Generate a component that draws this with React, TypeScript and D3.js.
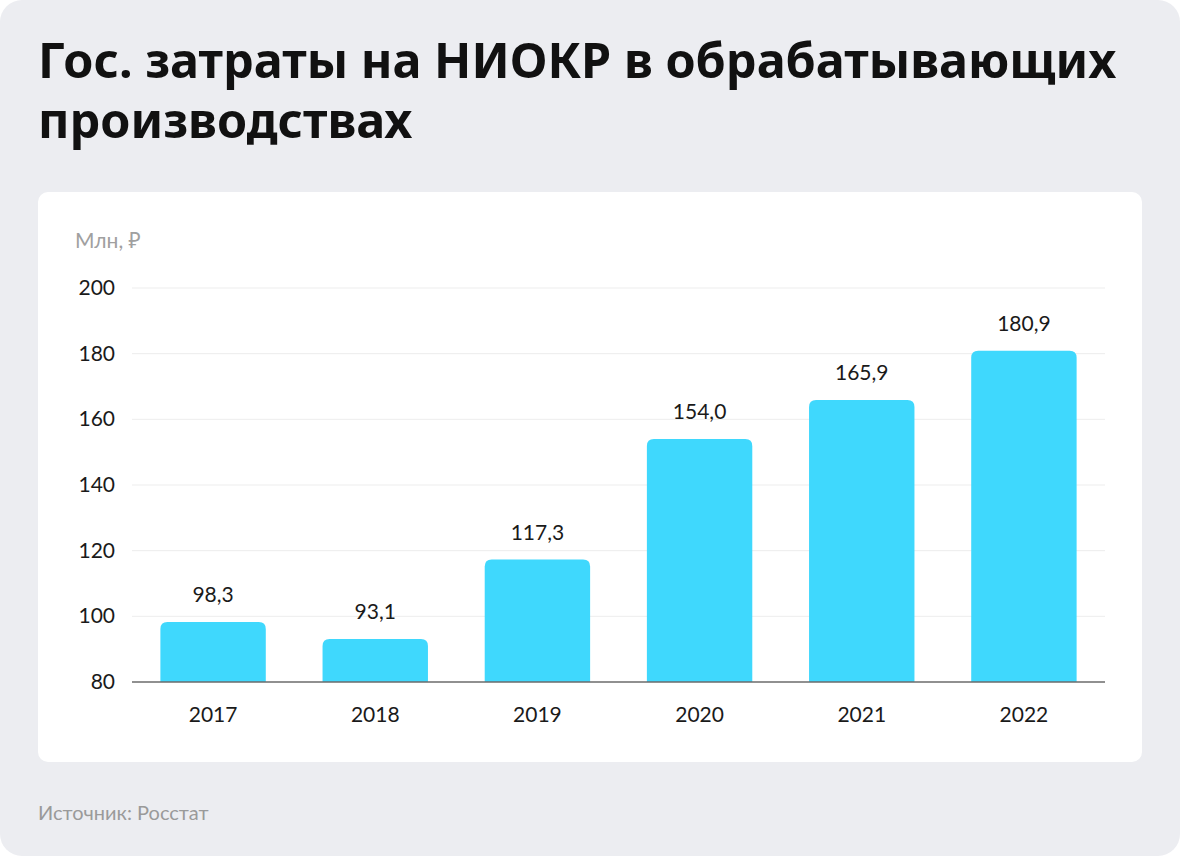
import { useEffect, useRef } from 'react';
import * as d3 from 'd3';

const years = ['2017', '2018', '2019', '2020', '2021', '2022'];
const values = [98.3, 93.1, 117.3, 154.0, 165.9, 180.9];
const yTicks = [80, 100, 120, 140, 160, 180, 200];
const titleLines = ['Гос. затраты на НИОКР в обрабатывающих', 'производствах'];
const unitLabel = 'Млн, ₽';
const sourceLabel = 'Источник: Росстат';

const W = 1180;
const H = 856;

const App = () => {
  const svgRef = useRef<SVGSVGElement>(null);

  useEffect(() => {
    document.body.style.margin = '0';
    const svg = d3.select(svgRef.current);
    svg.selectAll('*').remove();

    // page background
    svg.append('rect').attr('width', W).attr('height', H).attr('fill', '#ffffff');
    svg.append('rect').attr('width', W).attr('height', H).attr('rx', 22).attr('fill', '#ecedf1');

    const title = svg.append('text')
      .attr('font-family', '"Noto Sans", "Open Sans", sans-serif')
      .attr('font-weight', 700)
      .attr('font-size', 48.5)
      .attr('fill', '#111');
    titleLines.forEach((line, i) => {
      title.append('tspan').attr('x', 38).attr('y', 78 + i * 60).text(line);
    });

    // white card
    svg.append('rect')
      .attr('x', 38).attr('y', 192)
      .attr('width', 1104).attr('height', 570)
      .attr('rx', 10).attr('fill', '#ffffff');

    const left = 132;
    const right = 1105;
    const x = d3.scaleBand().domain(years).range([left, right]).paddingInner(0.35).paddingOuter(0.175);
    const y = d3.scaleLinear().domain([80, 200]).range([682, 288]);

    const font = 'Lato, "Noto Sans", sans-serif';

    svg.append('text')
      .attr('x', 75).attr('y', 248)
      .attr('font-family', font).attr('font-size', 21)
      .attr('fill', '#a0a0a0')
      .text(unitLabel);

    // grid
    svg.append('g')
      .selectAll('line')
      .data(yTicks.slice(1))
      .join('line')
      .attr('x1', left).attr('x2', right)
      .attr('y1', d => y(d)).attr('y2', d => y(d))
      .attr('stroke', '#ededed').attr('stroke-width', 1);

    svg.append('g')
      .selectAll('text')
      .data(yTicks)
      .join('text')
      .attr('x', 115).attr('y', d => y(d) + 7)
      .attr('text-anchor', 'end')
      .attr('font-family', font).attr('font-size', 21)
      .attr('fill', '#1a1a1a')
      .text(d => d);

    // bars with rounded top corners
    const r = 7;
    const bw = x.bandwidth();
    svg.append('g')
      .selectAll('path')
      .data(values)
      .join('path')
      .attr('fill', '#3fd8fd')
      .attr('d', (d, i) => {
        const x0 = x(years[i])!;
        const y0 = y(d);
        const yb = y(80);
        return `M${x0},${yb}V${y0 + r}Q${x0},${y0} ${x0 + r},${y0}H${x0 + bw - r}Q${x0 + bw},${y0} ${x0 + bw},${y0 + r}V${yb}Z`;
      });

    svg.append('g')
      .selectAll('text')
      .data(values)
      .join('text')
      .attr('x', (d, i) => x(years[i])! + bw / 2)
      .attr('y', d => y(d) - 20)
      .attr('text-anchor', 'middle')
      .attr('font-family', font).attr('font-size', 21)
      .attr('fill', '#1a1a1a')
      .text(d => d3.format('.1f')(d).replace('.', ','));

    // baseline
    svg.append('line')
      .attr('x1', left).attr('x2', right)
      .attr('y1', y(80)).attr('y2', y(80))
      .attr('stroke', '#6b6b6b').attr('stroke-width', 1.5);

    svg.append('g')
      .selectAll('text')
      .data(years)
      .join('text')
      .attr('x', d => x(d)! + bw / 2)
      .attr('y', 722)
      .attr('text-anchor', 'middle')
      .attr('font-family', font).attr('font-size', 21)
      .attr('fill', '#1a1a1a')
      .text(d => d);

    svg.append('text')
      .attr('x', 38).attr('y', 820)
      .attr('font-family', font).attr('font-size', 20)
      .attr('fill', '#9a9a9a')
      .text(sourceLabel);
  }, []);

  return <svg ref={svgRef} width={W} height={H} style={{ display: 'block' }}></svg>;
};

export default App;
